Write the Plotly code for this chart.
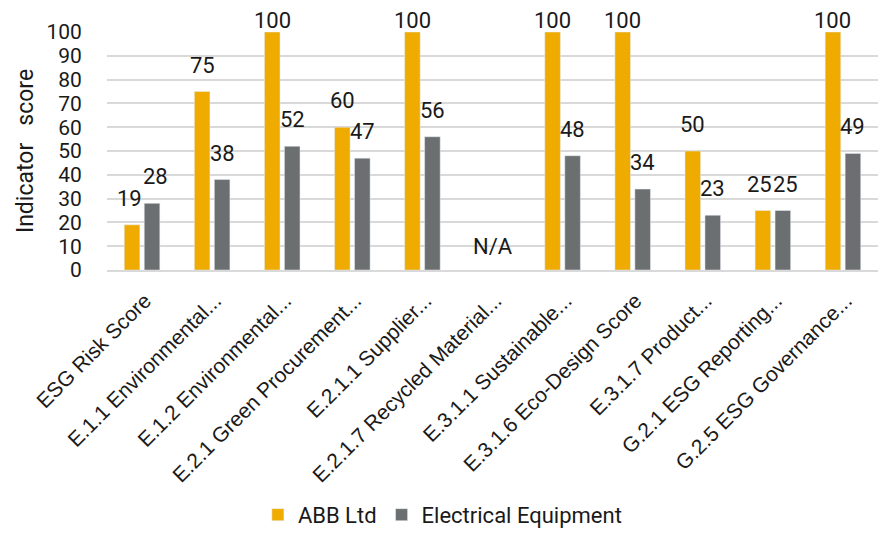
import plotly.graph_objects as go

categories = ["ESG Risk Score", "E.1.1 Environmental...", "E.1.2 Environmental...",
              "E.2.1 Green Procurement...", "E.2.1.1 Supplier...", "E.2.1.7 Recycled Material...",
              "E.3.1.1 Sustainable...", "E.3.1.6 Eco-Design Score", "E.3.1.7 Product...",
              "G.2.1 ESG Reporting...", "G.2.5 ESG Governance..."]
abb = [19, 75, 100, 60, 100, None, 100, 100, 50, 25, 100]
sector = [28, 38, 52, 47, 56, None, 48, 34, 23, 25, 49]
y_ticks = list(range(0, 101, 10))
na_category = "E.2.1.7 Recycled Material..."
na_value = 10
y_max = 100

label_font = dict(size=22, color="#1a1a1a", family="Roboto")

fig = go.Figure()
fig.add_trace(go.Bar(name="ABB Ltd", x=categories, y=abb, marker_color="#F0AB00"))
fig.add_trace(go.Bar(name="Electrical Equipment", x=categories, y=sector, marker_color="#6C6F70"))

# data labels (Excel-like: offset above the bar, clamped at the top of the plot,
# nudged apart when the two labels of a category sit at nearly the same height)
for cat, a, s in zip(categories, abb, sector):
    close = a is not None and s is not None and abs(a - s) < 12
    for v, side in ((a, -1), (s, 1)):
        if v is None:
            continue
        shift = side * (13 if close else 10)
        fig.add_annotation(x=cat, y=v, text=str(v), showarrow=False, yanchor="bottom",
                           xshift=shift, yshift=(-3 if v >= y_max else 12),
                           font=label_font)

fig.add_annotation(x=na_category, y=na_value, text="N/A", showarrow=False, font=label_font)

fig.update_layout(
    width=878, height=544,
    margin=dict(l=107, r=0, t=32, b=274),
    plot_bgcolor="white", paper_bgcolor="white",
    barmode="group", bargap=0.43, bargroupgap=0.22,
    font=dict(family="Roboto", size=21, color="#1a1a1a"),
    legend=dict(orientation="h", x=0.435, xanchor="center", y=0.015, yanchor="bottom",
                yref="container", font=dict(size=22, family="Roboto"), itemwidth=30,
                traceorder="normal"),
)
fig.update_yaxes(range=[0, 100], tickvals=y_ticks, showgrid=True, gridcolor="#D9D9D9",
                 gridwidth=1.5, zeroline=False, showline=False,
                 ticks="outside", ticklen=20, tickcolor="rgba(0,0,0,0)",
                 tickfont=dict(size=21, family="Roboto"),
                 title=dict(text="Indicator\u00a0\u00a0 score", font=dict(size=23, family="Roboto"), standoff=6))
fig.update_xaxes(tickangle=-45, tickfont=dict(size=21, family="Liberation Sans", color="#1a1a1a"),
                 showline=True, linecolor="#D9D9D9", linewidth=2, ticks="outside", ticklen=8,
                 tickcolor="rgba(0,0,0,0)", ticklabelshift=3)

fig.write_html("out.html")
